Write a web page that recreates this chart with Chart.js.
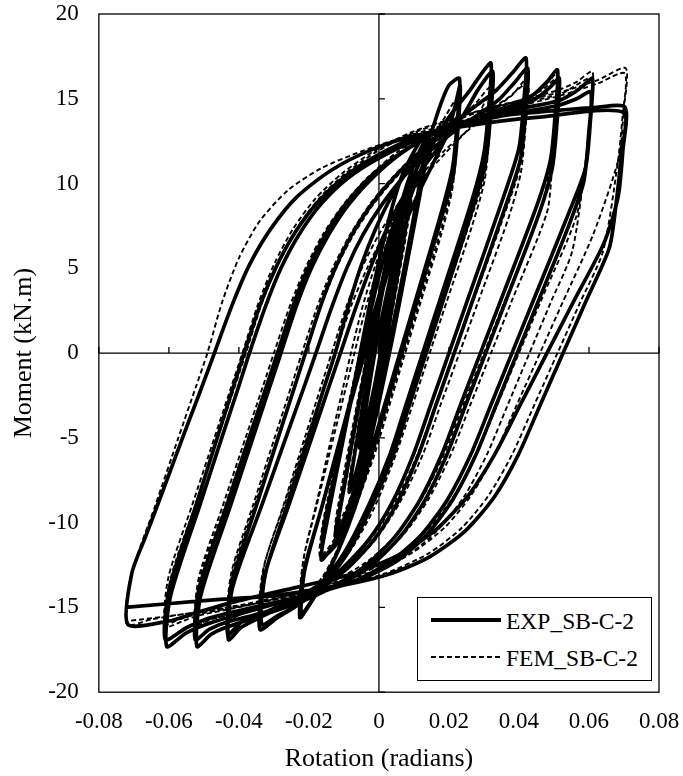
<!DOCTYPE html>
<html>
<head>
<meta charset="utf-8">
<script src="https://cdn.jsdelivr.net/npm/chart.js@4.4.1/dist/chart.umd.min.js"></script>
<style>
    body { margin: 0; background: #fff; }
    #wrap { position: relative; width: 683px; height: 776px; }
    #legend {
        position: absolute; left: 417px; top: 597px; width: 235px; height: 84px;
        box-sizing: border-box; border: 1.5px solid #000; background: #fff;
        font-family: 'Liberation Serif', 'Times New Roman', serif; font-size: 23.5px; color: #000;
    }
    #legend .row { position: absolute; left: 0; height: 30px; width: 100%; }
    #legend svg { position: absolute; left: 13px; top: 0; }
    #legend span { position: absolute; left: 88px; top: 1px; line-height: 30px; white-space: nowrap; }
</style>
</head>
<body>
<div id="wrap">
    <canvas id="hysteresisChart"></canvas>
    <div id="legend"></div>
</div>
<script>
// Moment-rotation hysteresis, values as [rotation (rad), moment (kN.m)]
const seriesNames = ['EXP_SB-C-2', 'FEM_SB-C-2'];
const xTickLabels = ['-0.08', '-0.06', '-0.04', '-0.02', '0', '0.02', '0.04', '0.06', '0.08'];
const yTickLabels = ['-20', '-15', '-10', '-5', '0', '5', '10', '15', '20'];

// EXP: small elastic cycles
const expSmall = [
    [0, 0], [0.002, 2.4], [0.0045, 5.0],
    [0.003, 3.0], [0.0, -0.6], [-0.003, -3.6], [-0.0055, -5.6],
    [-0.004, -3.6], [-0.001, 0.2], [0.003, 4.2], [0.0065, 7.3],
    [0.005, 5.2], [0.001, 0.6], [-0.003, -3.8], [-0.0065, -7.0], [-0.0085, -8.2],
    [-0.0068, -5.8], [-0.003, -1.2], [0.001, 3.6], [0.0055, 7.6], [0.009, 9.7],
    [0.0074, 7.2], [0.0035, 2.6], [-0.0005, -2.2], [-0.005, -6.6], [-0.0092, -9.4], [-0.012, -10.5],
    [-0.01, -8.0], [-0.006, -3.4], [-0.002, 1.0], [0.002, 5.0], [0.0065, 8.8], [0.0095, 10.2],
    [0.0078, 7.6], [0.004, 3.0], [0.0, -1.8], [-0.0045, -6.4], [-0.009, -9.4], [-0.0125, -10.8],
    [-0.0103, -8.2], [-0.0065, -3.8], [-0.0025, 0.6], [0.0015, 4.8], [0.006, 8.6], [0.0105, 11.4], [0.0135, 12.6],
    [0.0118, 10.2], [0.0075, 5.3], [0.003, 0.6], [-0.0015, -3.8], [-0.0065, -8.0], [-0.0115, -10.8], [-0.0165, -12.2],
    [-0.0145, -9.6], [-0.0105, -5.4], [-0.0065, -1.2], [-0.0025, 3.0], [0.002, 7.2], [0.0065, 10.4], [0.0115, 12.4], [0.0145, 13.0],
    [0.0128, 10.6], [0.0085, 5.8], [0.004, 1.0], [-0.0005, -3.4], [-0.0055, -7.8], [-0.0105, -10.8], [-0.016, -12.0]
];

// EXP: large cycles 0.02 .. 0.07 rad (two cycles each)
const expLarge = [
    [-0.0157, -10.2], [-0.0115, -6.2], [-0.0075, -2.4], [-0.005, 0], [-0.002, 2.8], [0.0008, 5.2], [0.0038, 7.3], [0.0075, 9.3], [0.0115, 11.2], [0.0146, 12.8], [0.0175, 14.6], [0.02, 15.8], [0.023, 16.2],
    [0.0224, 13.7], [0.021, 10.9], [0.0177, 8.2], [0.0103, 3.0], [0.006, 0], [0.0017, -3.0], [-0.0026, -6.0], [-0.0075, -9.3], [-0.012, -11.8], [-0.0165, -13.7], [-0.02, -14.9], [-0.0226, -15.6],
    [-0.0216, -13.0], [-0.0162, -9.0], [-0.0108, -5.0], [-0.0068, -2.0], [-0.004, 0], [-0.0002, 2.8], [0.0032, 5.2], [0.0068, 7.3], [0.011, 9.3], [0.0155, 11.2], [0.0195, 12.9], [0.0218, 14.6], [0.0232, 15.8],
    [0.0226, 13.3], [0.0212, 10.5], [0.0176, 7.8], [0.0108, 3.0], [0.0065, 0], [0.0022, -3.0], [-0.0021, -6.0], [-0.007, -9.2], [-0.0115, -11.6], [-0.016, -13.5], [-0.0195, -14.7], [-0.0222, -15.4],
    [-0.0212, -12.8], [-0.0162, -9.0], [-0.011, -5.0], [-0.0071, -2.0], [-0.0045, 0], [-0.0008, 2.8], [0.0027, 5.2], [0.006, 7.4], [0.0095, 9.5], [0.013, 11.3], [0.0165, 12.8], [0.021, 14.2], [0.026, 15.5], [0.029, 16.4], [0.032, 17.1],
    [0.0314, 14.6], [0.03, 11.8], [0.0267, 9.1], [0.0172, 3.0], [0.0125, 0], [0.0078, -3.0], [0.0031, -6.0], [-0.003, -9.0], [-0.01, -11.8], [-0.017, -13.7], [-0.0235, -14.9], [-0.029, -15.6], [-0.034, -16.3],
    [-0.0329, -13.3], [-0.0258, -9.0], [-0.0192, -5.0], [-0.0143, -2.0], [-0.011, 0], [-0.0064, 2.8], [-0.0021, 5.2], [0.0022, 7.3], [0.0072, 9.3], [0.0128, 11.0], [0.0185, 12.5], [0.024, 14.0], [0.0285, 15.6], [0.0325, 16.6],
    [0.0319, 14.1], [0.0305, 11.3], [0.0269, 8.6], [0.0182, 3.0], [0.0135, 0], [0.0088, -3.0], [0.0041, -6.0], [-0.002, -9.0], [-0.009, -11.8], [-0.016, -13.7], [-0.0235, -14.9], [-0.029, -15.5], [-0.0335, -16.0],
    [-0.0324, -13.0], [-0.0263, -9.0], [-0.0202, -5.0], [-0.0156, -2.0], [-0.0125, 0], [-0.0088, 2.7], [-0.005, 5.2], [-0.001, 7.3], [0.0035, 9.2], [0.009, 11.0], [0.015, 12.5], [0.022, 13.7], [0.0285, 14.7], [0.0335, 15.5], [0.038, 16.5], [0.042, 17.4],
    [0.0414, 14.9], [0.04, 12.1], [0.0359, 9.4], [0.0251, 3.0], [0.02, 0], [0.0149, -3.0], [0.0098, -6.0], [0.0038, -8.8], [-0.0029, -11.0], [-0.011, -12.8], [-0.0203, -14.2], [-0.028, -15.0], [-0.035, -15.7], [-0.0395, -16.2], [-0.043, -16.9],
    [-0.0419, -13.9], [-0.0335, -9.0], [-0.0266, -5.0], [-0.0214, -2.0], [-0.018, 0], [-0.0135, 2.7], [-0.009, 5.1], [-0.0045, 7.0], [0.001, 8.8], [0.0075, 10.5], [0.015, 12.0], [0.023, 13.3], [0.03, 14.3], [0.0345, 15.0], [0.0385, 15.9], [0.0425, 16.8],
    [0.0419, 14.3], [0.0405, 11.5], [0.0364, 8.8], [0.0266, 3.0], [0.0215, 0], [0.0164, -3.0], [0.0113, -6.0], [0.0053, -8.8], [-0.0014, -11.0], [-0.0096, -12.8], [-0.018, -14.0], [-0.027, -14.8], [-0.035, -15.5], [-0.0395, -15.9], [-0.0432, -16.6],
    [-0.0421, -13.6], [-0.035, -9.0], [-0.0288, -5.0], [-0.0241, -2.0], [-0.021, 0], [-0.0168, 2.7], [-0.0125, 5.0], [-0.0077, 7.0], [-0.002, 8.8], [0.0045, 10.4], [0.012, 11.9], [0.021, 13.2], [0.031, 14.1], [0.0405, 14.8], [0.0445, 15.3], [0.048, 16.0], [0.051, 16.7],
    [0.0504, 14.2], [0.049, 11.4], [0.0451, 8.7], [0.0346, 3.0], [0.029, 0], [0.0234, -3.0], [0.0179, -6.0], [0.0116, -8.7], [0.0043, -10.9], [-0.0042, -12.6], [-0.0142, -13.9], [-0.024, -14.8], [-0.034, -15.5], [-0.044, -16.2], [-0.048, -16.6], [-0.052, -17.3],
    [-0.0509, -14.3], [-0.0424, -9.0], [-0.036, -5.0], [-0.0312, -2.0], [-0.028, 0], [-0.0237, 2.7], [-0.0193, 5.0], [-0.0143, 7.0], [-0.0085, 8.8], [-0.0015, 10.4], [0.0065, 11.8], [0.0165, 13.0], [0.028, 13.9], [0.04, 14.6], [0.0455, 15.1], [0.049, 15.7], [0.0515, 16.2],
    [0.0509, 13.7], [0.0495, 10.9], [0.0457, 8.2], [0.0361, 3.0], [0.0305, 0], [0.0249, -3.0], [0.0194, -6.0], [0.0131, -8.7], [0.0058, -10.9], [-0.0027, -12.6], [-0.0127, -13.8], [-0.023, -14.6], [-0.033, -15.3], [-0.044, -15.9], [-0.0485, -16.3], [-0.0525, -16.9],
    [-0.0514, -13.9], [-0.0435, -9.0], [-0.0371, -5.0], [-0.0322, -2.0], [-0.029, 0], [-0.0247, 2.7], [-0.0203, 5.0], [-0.0153, 7.0], [-0.0095, 8.8], [-0.0025, 10.4], [0.0055, 11.7], [0.0155, 12.9], [0.027, 13.8], [0.04, 14.4], [0.0515, 14.9], [0.056, 15.4], [0.0585, 15.8], [0.061, 16.2],
    [0.0604, 13.7], [0.059, 10.9], [0.0541, 8.2], [0.0439, 3.0], [0.038, 0], [0.0321, -3.0], [0.0262, -6.0], [0.0197, -8.6], [0.0122, -10.7], [0.0033, -12.3], [-0.0076, -13.5], [-0.021, -14.3], [-0.035, -15.1], [-0.048, -15.9], [-0.055, -16.5], [-0.0606, -17.3],
    [-0.0595, -14.3], [-0.0512, -9.0], [-0.0449, -5.0], [-0.0401, -2.0], [-0.037, 0], [-0.0325, 2.7], [-0.028, 5.0], [-0.0228, 7.0], [-0.0165, 8.8], [-0.009, 10.3], [0.0, 11.5], [0.011, 12.6], [0.024, 13.5], [0.038, 14.1], [0.051, 14.6], [0.0565, 15.0], [0.0605, 15.4],
    [0.0599, 12.9], [0.0585, 10.1], [0.054, 7.4], [0.0454, 3.0], [0.0395, 0], [0.0336, -3.0], [0.0277, -6.0], [0.0212, -8.6], [0.0137, -10.7], [0.0048, -12.3], [-0.006, -13.4], [-0.019, -14.2], [-0.034, -14.9], [-0.048, -15.6], [-0.055, -16.2], [-0.061, -16.9],
    [-0.0599, -13.9], [-0.0523, -9.0], [-0.0462, -5.0], [-0.0416, -2.0], [-0.0385, 0], [-0.034, 2.8], [-0.0293, 5.1], [-0.024, 7.1], [-0.0175, 8.9], [-0.0098, 10.4], [-0.001, 11.6], [0.009, 12.6], [0.021, 13.4], [0.035, 14.0], [0.05, 14.3], [0.062, 14.5], [0.0703, 14.5],
    [0.0697, 12.0], [0.0683, 9.2], [0.0643, 6.5], [0.0555, 3.0], [0.048, 0], [0.0405, -3.0], [0.033, -6.0], [0.0255, -8.4], [0.0164, -10.4], [0.0057, -11.9], [-0.0072, -13.0], [-0.0232, -13.8], [-0.04, -14.6], [-0.052, -15.3], [-0.06, -15.8], [-0.0717, -16.0],
    [-0.0706, -13.0], [-0.0666, -10.8], [-0.0615, -8.0], [-0.0561, -5.0], [-0.0515, -2.5], [-0.047, 0], [-0.042, 2.8], [-0.037, 5.2], [-0.031, 7.3], [-0.0235, 9.2], [-0.0135, 10.8], [-0.002, 12.0], [0.01, 12.8], [0.025, 13.4], [0.045, 13.9], [0.0698, 14.2],
    [0.0692, 11.7], [0.0678, 8.9], [0.0658, 6.2], [0.059, 3.0], [0.0526, 0], [0.0462, -3.0], [0.0398, -6.0], [0.0329, -8.5], [0.0246, -10.5], [0.0146, -12.0], [0.0035, -13.0], [-0.0105, -13.7], [-0.03, -14.3], [-0.05, -14.6], [-0.0725, -15.0]
];

// FEM: small elastic cycles
const femSmall = [
    [0, 0], [0.0025, 2.6], [0.005, 4.8],
    [0.0035, 3.0], [0.0005, -0.4], [-0.0025, -3.3], [-0.0055, -5.3],
    [-0.004, -3.4], [-0.0012, 0.0], [0.0025, 3.6], [0.0068, 7.0],
    [0.0052, 4.9], [0.0015, 0.6], [-0.0025, -3.6], [-0.0062, -6.8], [-0.0088, -8.0],
    [-0.007, -5.6], [-0.0035, -1.4], [0.0005, 3.0], [0.005, 7.0], [0.0095, 9.6],
    [0.0078, 7.0], [0.004, 2.6], [0.0, -2.0], [-0.0045, -6.2], [-0.009, -9.0], [-0.0125, -10.3],
    [-0.0108, -8.0], [-0.007, -3.8], [-0.003, 0.4], [0.001, 4.4], [0.0055, 8.2], [0.01, 11.0], [0.014, 12.4],
    [0.0122, 10.0], [0.008, 5.2], [0.0035, 0.6], [-0.001, -3.6], [-0.006, -7.6], [-0.011, -10.4], [-0.0168, -12.0]
];

// FEM: large cycles 0.02 .. 0.07 rad (two cycles each)
const femLarge = [
    [-0.016, -10.0], [-0.0118, -6.0], [-0.0087, -3.0], [-0.0055, 0], [-0.0025, 2.8], [0.0005, 5.2], [0.0035, 7.3], [0.0072, 9.3], [0.011, 11.0], [0.0145, 12.4], [0.0185, 13.8], [0.023, 15.2],
    [0.0224, 12.7], [0.021, 9.9], [0.0176, 7.2], [0.0114, 3.0], [0.007, 0], [0.0026, -3.0], [-0.0018, -6.0], [-0.0065, -8.8], [-0.011, -11.2], [-0.0155, -13.0], [-0.0195, -14.1], [-0.0226, -14.8],
    [-0.0216, -12.2], [-0.0178, -9.0], [-0.013, -5.0], [-0.0094, -2.0], [-0.007, 0], [-0.0036, 2.8], [0.0, 5.2], [0.0036, 7.3], [0.0078, 9.3], [0.0122, 11.0], [0.0165, 12.5], [0.0205, 13.8], [0.023, 15.0],
    [0.0224, 12.5], [0.021, 9.7], [0.0178, 7.0], [0.0119, 3.0], [0.0075, 0], [0.0031, -3.0], [-0.0013, -6.0], [-0.006, -8.7], [-0.0105, -11.0], [-0.015, -12.9], [-0.019, -14.0], [-0.0224, -14.6],
    [-0.0214, -12.0], [-0.018, -9.0], [-0.0136, -5.0], [-0.0102, -2.0], [-0.008, 0], [-0.0046, 2.8], [-0.001, 5.2], [0.003, 7.3], [0.0075, 9.3], [0.0125, 11.0], [0.0175, 12.5], [0.023, 13.8], [0.0275, 14.7], [0.032, 15.7],
    [0.0314, 13.2], [0.03, 10.4], [0.0259, 7.7], [0.0183, 3.0], [0.0135, 0], [0.0087, -3.0], [0.0038, -6.0], [-0.0025, -9.2], [-0.009, -11.6], [-0.016, -13.4], [-0.023, -14.4], [-0.029, -14.9], [-0.034, -15.4],
    [-0.0329, -12.6], [-0.0271, -9.0], [-0.0206, -5.0], [-0.0157, -2.0], [-0.0125, 0], [-0.0079, 2.8], [-0.0034, 5.0], [0.0012, 6.9], [0.0065, 8.7], [0.0125, 10.3], [0.019, 11.8], [0.0255, 13.2], [0.029, 14.3], [0.0322, 15.5],
    [0.0316, 13.0], [0.0302, 10.2], [0.0266, 7.5], [0.0193, 3.0], [0.0145, 0], [0.0097, -3.0], [0.0048, -6.0], [-0.0015, -9.2], [-0.008, -11.6], [-0.015, -13.4], [-0.0225, -14.4], [-0.029, -14.9], [-0.0338, -15.3],
    [-0.0327, -12.5], [-0.0273, -9.0], [-0.0212, -5.0], [-0.0166, -2.0], [-0.0135, 0], [-0.0092, 2.8], [-0.0047, 5.1], [0.0, 7.0], [0.0055, 8.8], [0.012, 10.5], [0.019, 12.0], [0.027, 13.4], [0.0335, 14.5], [0.038, 15.2], [0.042, 16.1],
    [0.0414, 13.6], [0.04, 10.8], [0.0357, 8.1], [0.0268, 3.0], [0.0215, 0], [0.0162, -3.0], [0.011, -6.0], [0.0045, -8.8], [-0.0025, -11.0], [-0.011, -12.8], [-0.0205, -14.0], [-0.029, -14.7], [-0.036, -15.2], [-0.0395, -15.4], [-0.043, -15.8],
    [-0.0419, -13.0], [-0.0355, -9.0], [-0.029, -5.0], [-0.0242, -2.0], [-0.021, 0], [-0.0165, 2.8], [-0.012, 5.1], [-0.0072, 7.0], [-0.0015, 8.8], [0.005, 10.4], [0.0125, 11.9], [0.0215, 13.2], [0.031, 14.3], [0.0365, 15.0], [0.0425, 15.9],
    [0.0419, 13.4], [0.0405, 10.6], [0.0369, 7.9], [0.0283, 3.0], [0.023, 0], [0.0177, -3.0], [0.0125, -6.0], [0.006, -8.8], [-0.001, -11.0], [-0.0095, -12.8], [-0.019, -14.0], [-0.028, -14.7], [-0.036, -15.2], [-0.0395, -15.4], [-0.0432, -15.7],
    [-0.0421, -12.9], [-0.036, -9.0], [-0.0298, -5.0], [-0.0251, -2.0], [-0.022, 0], [-0.0175, 2.8], [-0.013, 5.1], [-0.0082, 7.0], [-0.0025, 8.8], [0.004, 10.4], [0.0115, 11.9], [0.0205, 13.2], [0.031, 14.3], [0.0415, 15.0], [0.047, 15.7], [0.051, 16.5],
    [0.0504, 14.0], [0.049, 11.2], [0.0463, 8.5], [0.0358, 3.0], [0.03, 0], [0.0242, -3.0], [0.0185, -6.0], [0.0122, -8.6], [0.005, -10.7], [-0.0034, -12.3], [-0.0134, -13.5], [-0.024, -14.4], [-0.034, -15.0], [-0.044, -15.5], [-0.048, -15.7], [-0.052, -16.0],
    [-0.0509, -13.2], [-0.0439, -9.0], [-0.0373, -5.0], [-0.0323, -2.0], [-0.029, 0], [-0.0244, 2.8], [-0.0198, 5.1], [-0.015, 7.0], [-0.009, 8.8], [-0.002, 10.4], [0.0065, 11.9], [0.0165, 13.2], [0.028, 14.2], [0.04, 14.9], [0.0465, 15.5], [0.0515, 16.3],
    [0.0509, 13.8], [0.0495, 11.0], [0.048, 8.3], [0.0378, 3.0], [0.032, 0], [0.0262, -3.0], [0.0205, -6.0], [0.0142, -8.6], [0.007, -10.7], [-0.0014, -12.3], [-0.0114, -13.5], [-0.022, -14.4], [-0.033, -15.0], [-0.044, -15.5], [-0.0485, -15.7], [-0.0525, -16.0],
    [-0.0514, -13.2], [-0.0446, -9.0], [-0.0381, -5.0], [-0.0332, -2.0], [-0.03, 0], [-0.0254, 2.8], [-0.0208, 5.1], [-0.016, 7.0], [-0.01, 8.8], [-0.003, 10.4], [0.0055, 11.9], [0.0155, 13.2], [0.027, 14.2], [0.04, 14.9], [0.051, 15.5], [0.0565, 16.0], [0.061, 16.6],
    [0.0604, 14.1], [0.059, 11.3], [0.0563, 8.0], [0.0461, 3.0], [0.04, 0], [0.0339, -3.0], [0.0278, -6.0], [0.0212, -8.5], [0.0135, -10.5], [0.0047, -12.0], [-0.0073, -13.2], [-0.0223, -14.1], [-0.038, -14.9], [-0.052, -15.5], [-0.056, -15.8], [-0.0606, -16.1],
    [-0.0595, -13.3], [-0.0525, -9.0], [-0.0461, -5.0], [-0.0412, -2.0], [-0.038, 0], [-0.0335, 2.9], [-0.0288, 5.3], [-0.0236, 7.3], [-0.0172, 9.1], [-0.0095, 10.6], [-0.0005, 11.9], [0.01, 13.0], [0.023, 13.9], [0.038, 14.6], [0.052, 15.3], [0.0608, 16.2],
    [0.0602, 13.7], [0.0588, 10.9], [0.0552, 6.0], [0.0491, 3.0], [0.043, 0], [0.0369, -3.0], [0.0308, -6.0], [0.0242, -8.5], [0.0165, -10.5], [0.0077, -12.0], [-0.0043, -13.2], [-0.019, -14.0], [-0.036, -14.8], [-0.052, -15.4], [-0.057, -15.7], [-0.0612, -16.0],
    [-0.0601, -13.2], [-0.0534, -9.0], [-0.047, -5.0], [-0.0422, -2.0], [-0.039, 0], [-0.0345, 2.9], [-0.0298, 5.3], [-0.0246, 7.3], [-0.0182, 9.1], [-0.0105, 10.6], [-0.0015, 11.9], [0.009, 13.0], [0.022, 13.9], [0.037, 14.7], [0.052, 15.4], [0.0625, 16.1], [0.0705, 16.8],
    [0.0699, 14.3], [0.0685, 11.5], [0.0612, 7.0], [0.0525, 3.0], [0.046, 0], [0.0395, -3.0], [0.033, -6.0], [0.0263, -8.4], [0.0187, -10.3], [0.0093, -11.8], [-0.0033, -13.0], [-0.0197, -13.9], [-0.038, -14.8], [-0.056, -15.4], [-0.065, -15.7], [-0.072, -16.0],
    [-0.0709, -13.2], [-0.0639, -9.0], [-0.0573, -5.0], [-0.0523, -2.0], [-0.049, 0], [-0.0448, 3.0], [-0.04, 5.6], [-0.034, 7.8], [-0.026, 9.6], [-0.0165, 10.9], [-0.005, 11.9], [0.008, 12.8], [0.022, 13.6], [0.037, 14.4], [0.052, 15.2], [0.0625, 15.9], [0.0702, 16.5],
    [0.0696, 14.0], [0.0682, 11.2], [0.064, 6.0], [0.0575, 3.0], [0.051, 0], [0.0445, -3.0], [0.038, -6.0], [0.0313, -8.4], [0.0237, -10.3], [0.0143, -11.8], [0.0017, -13.0], [-0.0147, -13.9], [-0.036, -14.8], [-0.056, -15.4], [-0.0715, -15.8]
];

const FONT = "'Liberation Serif', 'Times New Roman', serif";

function toPoints(pairs) {
    return pairs.map(([x, y]) => ({ x, y }));
}

// outer frame, the two zero axes and their little tick marks
const frameAndZeroTicks = {
    id: 'frameAndZeroTicks',
    afterDatasetsDraw(chart) {
        const { ctx, chartArea: a, scales: { x, y } } = chart;
        const x0 = x.getPixelForValue(0);
        const y0 = y.getPixelForValue(0);
        ctx.save();
        ctx.strokeStyle = '#000';
        ctx.lineWidth = 1.3;
        ctx.strokeRect(a.left, a.top, a.right - a.left, a.bottom - a.top);
        ctx.beginPath();
        ctx.moveTo(a.left, y0); ctx.lineTo(a.right, y0);
        ctx.moveTo(x0, a.top); ctx.lineTo(x0, a.bottom);
        x.ticks.forEach(t => {
            const px = x.getPixelForValue(t.value);
            ctx.moveTo(px, y0); ctx.lineTo(px, y0 - 6);
        });
        y.ticks.forEach(t => {
            const py = y.getPixelForValue(t.value);
            ctx.moveTo(x0, py); ctx.lineTo(x0 + 6, py);
        });
        ctx.stroke();
        ctx.restore();
    }
};

// Chart.js reserves the tick padding twice and also pads the plot edges with it; undo both
function fitX(scale) {
    scale.paddingLeft = 0;
    scale.paddingRight = 0;
    scale.height -= scale.options.ticks.padding;
}

function fitY(scale) {
    scale.paddingTop = 0;
    scale.paddingBottom = 0;
    scale.width -= scale.options.ticks.padding;
}

function initializeHysteresisChart() {
    const canvas = document.getElementById('hysteresisChart');
    const ctx = canvas.getContext('2d');

    new Chart(ctx, {
        type: 'scatter',
        data: {
            datasets: [{
                label: seriesNames[0],
                data: toPoints(expSmall.concat(expLarge)),
                showLine: true,
                borderColor: '#000',
                borderWidth: 3.7,
                pointRadius: 0,
                tension: 0.25,
                order: 1
            }, {
                label: seriesNames[1],
                data: toPoints(femSmall.concat(femLarge)),
                showLine: true,
                borderColor: '#000',
                borderWidth: 1.9,
                borderDash: [5, 3],
                pointRadius: 0,
                tension: 0.25,
                order: 0
            }]
        },
        options: {
            responsive: true,
            maintainAspectRatio: false,
            animation: false,
            layout: { padding: { left: 9, right: 24, top: 14, bottom: 1 } },
            plugins: {
                legend: { display: false },
                tooltip: { enabled: false }
            },
            scales: {
                x: {
                    type: 'linear',
                    min: -0.08,
                    max: 0.08,
                    afterFit: fitX,
                    grid: { display: false, drawTicks: false },
                    border: { display: false },
                    ticks: {
                        stepSize: 0.02,
                        padding: 16,
                        color: '#000',
                        font: { family: FONT, size: 23 },
                        callback: (value, index) => xTickLabels[index]
                    },
                    title: {
                        display: true,
                        text: 'Rotation (radians)',
                        color: '#000',
                        font: { family: FONT, size: 26 },
                        padding: { top: 8, bottom: 0 }
                    }
                },
                y: {
                    type: 'linear',
                    min: -20,
                    max: 20,
                    afterFit: fitY,
                    grid: { display: false, drawTicks: false },
                    border: { display: false },
                    ticks: {
                        stepSize: 5,
                        padding: 20,
                        color: '#000',
                        font: { family: FONT, size: 23 },
                        callback: (value, index) => yTickLabels[index]
                    },
                    title: {
                        display: true,
                        text: 'Moment (kN.m)',
                        color: '#000',
                        font: { family: FONT, size: 26 },
                        padding: { top: 0, bottom: 8 }
                    }
                }
            }
        },
        plugins: [frameAndZeroTicks]
    });

    createLegend();
}

function createLegend() {
    const box = document.getElementById('legend');
    const rows = [
        { name: seriesNames[0], width: 4, dash: '' },
        { name: seriesNames[1], width: 2, dash: '5 3' }
    ];
    rows.forEach((r, i) => {
        const row = document.createElement('div');
        row.className = 'row';
        row.style.top = (i === 0 ? 7 : 44) + 'px';
        row.innerHTML = `
            <svg width="70" height="30" xmlns="http://www.w3.org/2000/svg">
                <line x1="0" y1="15" x2="70" y2="15" stroke="#000" stroke-width="${r.width}" ${r.dash ? `stroke-dasharray="${r.dash}"` : ''}></line>
            </svg>
            <span>${r.name}</span>
        `;
        box.appendChild(row);
    });
}

document.addEventListener('DOMContentLoaded', initializeHysteresisChart);
</script>
</body>
</html>
